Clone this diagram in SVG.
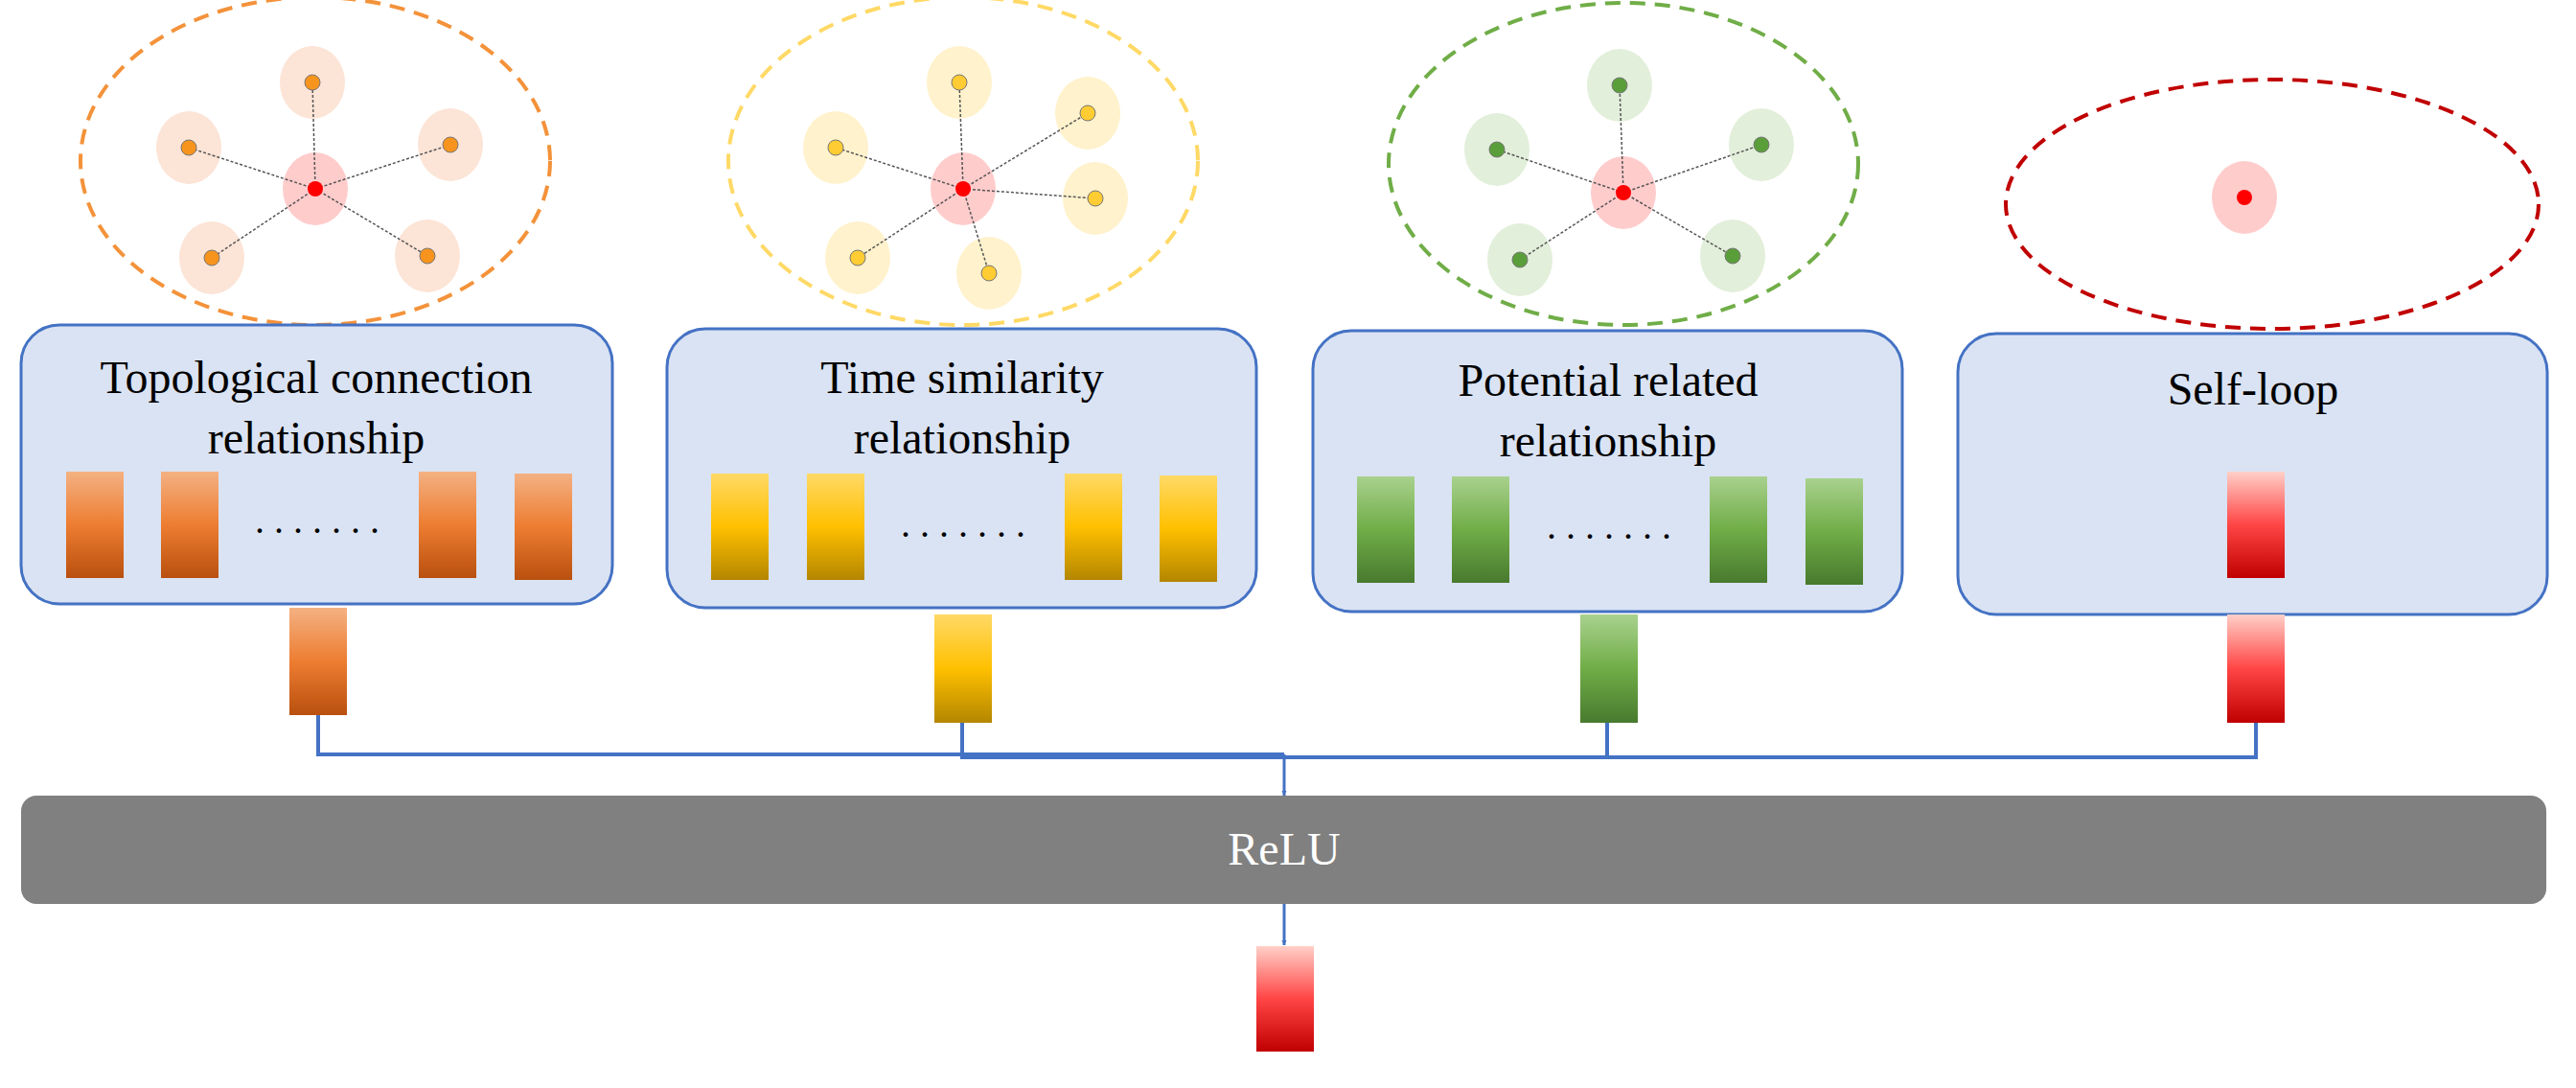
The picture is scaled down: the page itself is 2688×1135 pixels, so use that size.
<svg xmlns="http://www.w3.org/2000/svg" width="2688" height="1135" viewBox="0 0 2688 1135">
<defs>
<linearGradient id="gO" x1="0" y1="0" x2="0" y2="1"><stop offset="0" stop-color="#F4B183"/><stop offset="0.5" stop-color="#ED7D31"/><stop offset="1" stop-color="#B9500F"/></linearGradient>
<linearGradient id="gY" x1="0" y1="0" x2="0" y2="1"><stop offset="0" stop-color="#FFD966"/><stop offset="0.5" stop-color="#FFC000"/><stop offset="1" stop-color="#B38600"/></linearGradient>
<linearGradient id="gG" x1="0" y1="0" x2="0" y2="1"><stop offset="0" stop-color="#A9D18E"/><stop offset="0.5" stop-color="#70AD47"/><stop offset="1" stop-color="#487A2E"/></linearGradient>
<linearGradient id="gR" x1="0" y1="0" x2="0" y2="1"><stop offset="0" stop-color="#FFD0C8"/><stop offset="0.5" stop-color="#FF4545"/><stop offset="1" stop-color="#C00000"/></linearGradient>
<marker id="arr" viewBox="0 0 10 10" refX="10" refY="5" markerWidth="5" markerHeight="7" orient="auto" markerUnits="userSpaceOnUse"><path d="M0,0 L10,5 L0,10 z" fill="#4472C4"/></marker>
</defs>
<style>
.box{fill:#DAE3F3;stroke:#4472C4;stroke-width:3}
.t{font-family:"Liberation Serif",serif;font-size:48px;text-anchor:middle;fill:#000}
.edge{stroke:#555;stroke-width:1.5;stroke-dasharray:3 2}
.dash{fill:none;stroke-width:4;stroke-dasharray:16 10}
.conn{fill:none;stroke:#4472C4;stroke-width:4}
.dots{font-family:"Liberation Serif",serif;font-size:40px;fill:#000;letter-spacing:10px}
</style>
<rect width="2688" height="1135" fill="#fff"/>

<g id="graph1">
<ellipse cx="329" cy="168" rx="245" ry="171" class="dash" stroke="#F4923A"/>
<g fill="#FCE4D6"><ellipse cx="326" cy="86" rx="34" ry="38"/><ellipse cx="197" cy="154" rx="34" ry="38"/><ellipse cx="470" cy="151" rx="34" ry="38"/><ellipse cx="221" cy="269" rx="34" ry="38"/><ellipse cx="446" cy="267" rx="34" ry="38"/></g>
<ellipse cx="329" cy="197" rx="34" ry="38" fill="#FFCCCC"/>
<g class="edge"><line x1="329" y1="197" x2="326" y2="86"/><line x1="329" y1="197" x2="197" y2="154"/><line x1="329" y1="197" x2="470" y2="151"/><line x1="329" y1="197" x2="221" y2="269"/><line x1="329" y1="197" x2="446" y2="267"/></g>
<g fill="#F7941D" stroke="#777" stroke-width="1"><circle cx="326" cy="86" r="8"/><circle cx="197" cy="154" r="8"/><circle cx="470" cy="151" r="8"/><circle cx="221" cy="269" r="8"/><circle cx="446" cy="267" r="8"/></g>
<circle cx="329" cy="197" r="8" fill="#FF0000"/>
</g>

<g id="graph2">
<ellipse cx="1005" cy="168" rx="245" ry="171" class="dash" stroke="#FFD966"/>
<g fill="#FFF2CC"><ellipse cx="1001" cy="86" rx="34" ry="38"/><ellipse cx="872" cy="154" rx="34" ry="38"/><ellipse cx="1135" cy="118" rx="34" ry="38"/><ellipse cx="1143" cy="207" rx="34" ry="38"/><ellipse cx="895" cy="269" rx="34" ry="38"/><ellipse cx="1032" cy="285" rx="34" ry="38"/></g>
<ellipse cx="1005" cy="197" rx="34" ry="38" fill="#FFCCCC"/>
<g class="edge"><line x1="1005" y1="197" x2="1001" y2="86"/><line x1="1005" y1="197" x2="872" y2="154"/><line x1="1005" y1="197" x2="1135" y2="118"/><line x1="1005" y1="197" x2="1143" y2="207"/><line x1="1005" y1="197" x2="895" y2="269"/><line x1="1005" y1="197" x2="1032" y2="285"/></g>
<g fill="#FFCC33" stroke="#777" stroke-width="1"><circle cx="1001" cy="86" r="8"/><circle cx="872" cy="154" r="8"/><circle cx="1135" cy="118" r="8"/><circle cx="1143" cy="207" r="8"/><circle cx="895" cy="269" r="8"/><circle cx="1032" cy="285" r="8"/></g>
<circle cx="1005" cy="197" r="8" fill="#FF0000"/>
</g>

<g id="graph3">
<ellipse cx="1694" cy="171" rx="245" ry="168" class="dash" stroke="#70AD47"/>
<g fill="#E2EFDA"><ellipse cx="1690" cy="89" rx="34" ry="38"/><ellipse cx="1562" cy="156" rx="34" ry="38"/><ellipse cx="1838" cy="151" rx="34" ry="38"/><ellipse cx="1586" cy="271" rx="34" ry="38"/><ellipse cx="1808" cy="267" rx="34" ry="38"/></g>
<ellipse cx="1694" cy="201" rx="34" ry="38" fill="#FFCCCC"/>
<g class="edge"><line x1="1694" y1="201" x2="1690" y2="89"/><line x1="1694" y1="201" x2="1562" y2="156"/><line x1="1694" y1="201" x2="1838" y2="151"/><line x1="1694" y1="201" x2="1586" y2="271"/><line x1="1694" y1="201" x2="1808" y2="267"/></g>
<g fill="#5A9E3A" stroke="#777" stroke-width="1"><circle cx="1690" cy="89" r="8"/><circle cx="1562" cy="156" r="8"/><circle cx="1838" cy="151" r="8"/><circle cx="1586" cy="271" r="8"/><circle cx="1808" cy="267" r="8"/></g>
<circle cx="1694" cy="201" r="8" fill="#FF0000"/>
</g>

<g id="graph4">
<ellipse cx="2371" cy="213" rx="278" ry="130" class="dash" stroke="#C00000"/>
<ellipse cx="2342" cy="206" rx="34" ry="38" fill="#FFCCCC"/>
<circle cx="2342" cy="206" r="8" fill="#FF0000"/>
</g>

<g id="box1">
<rect x="22" y="339" width="617" height="291" rx="40" class="box"/>
<text x="330" y="410" class="t">Topological connection</text>
<text x="330" y="473" class="t">relationship</text>
<g fill="url(#gO)"><rect x="69" y="492" width="60" height="111"/><rect x="168" y="492" width="60" height="111"/><rect x="437" y="492" width="60" height="111"/><rect x="537" y="494" width="60" height="111"/></g>
<text x="266" y="556" class="dots">.......</text>
</g>

<g id="box2">
<rect x="696" y="343" width="615" height="291" rx="40" class="box"/>
<text x="1004" y="410" class="t">Time similarity</text>
<text x="1004" y="473" class="t">relationship</text>
<g fill="url(#gY)"><rect x="742" y="494" width="60" height="111"/><rect x="842" y="494" width="60" height="111"/><rect x="1111" y="494" width="60" height="111"/><rect x="1210" y="496" width="60" height="111"/></g>
<text x="940" y="560" class="dots">.......</text>
</g>

<g id="box3">
<rect x="1370" y="345" width="615" height="293" rx="40" class="box"/>
<text x="1678" y="413" class="t">Potential related</text>
<text x="1678" y="476" class="t">relationship</text>
<g fill="url(#gG)"><rect x="1416" y="497" width="60" height="111"/><rect x="1515" y="497" width="60" height="111"/><rect x="1784" y="497" width="60" height="111"/><rect x="1884" y="499" width="60" height="111"/></g>
<text x="1614" y="562" class="dots">.......</text>
</g>

<g id="box4">
<rect x="2043" y="348" width="615" height="293" rx="40" class="box"/>
<text x="2351" y="422" class="t">Self-loop</text>
<rect x="2324" y="492" width="60" height="111" fill="url(#gR)"/>
</g>

<g id="outbars">
<rect x="302" y="634" width="60" height="112" fill="url(#gO)"/>
<rect x="975" y="641" width="60" height="113" fill="url(#gY)"/>
<rect x="1649" y="641" width="60" height="113" fill="url(#gG)"/>
<rect x="2324" y="641" width="60" height="113" fill="url(#gR)"/>
</g>

<g id="connectors">
<polyline class="conn" points="332,746 332,787 1340,787"/>
<polyline class="conn" points="1004,754 1004,790 2354,790 2354,754"/>
<line class="conn" x1="1677" y1="754" x2="1677" y2="790"/>
<line x1="1340" y1="787" x2="1340" y2="830" stroke="#4472C4" stroke-width="3" marker-end="url(#arr)"/>
<line x1="1340" y1="943" x2="1340" y2="986" stroke="#4472C4" stroke-width="3" marker-end="url(#arr)"/>
</g>

<g id="relu">
<rect x="22" y="830" width="2635" height="113" rx="16" fill="#808080"/>
<text x="1340" y="902" class="t" fill="#fff" style="fill:#fff">ReLU</text>
</g>

<g id="output">
<rect x="1311" y="987" width="60" height="110" fill="url(#gR)"/>
</g>
</svg>
